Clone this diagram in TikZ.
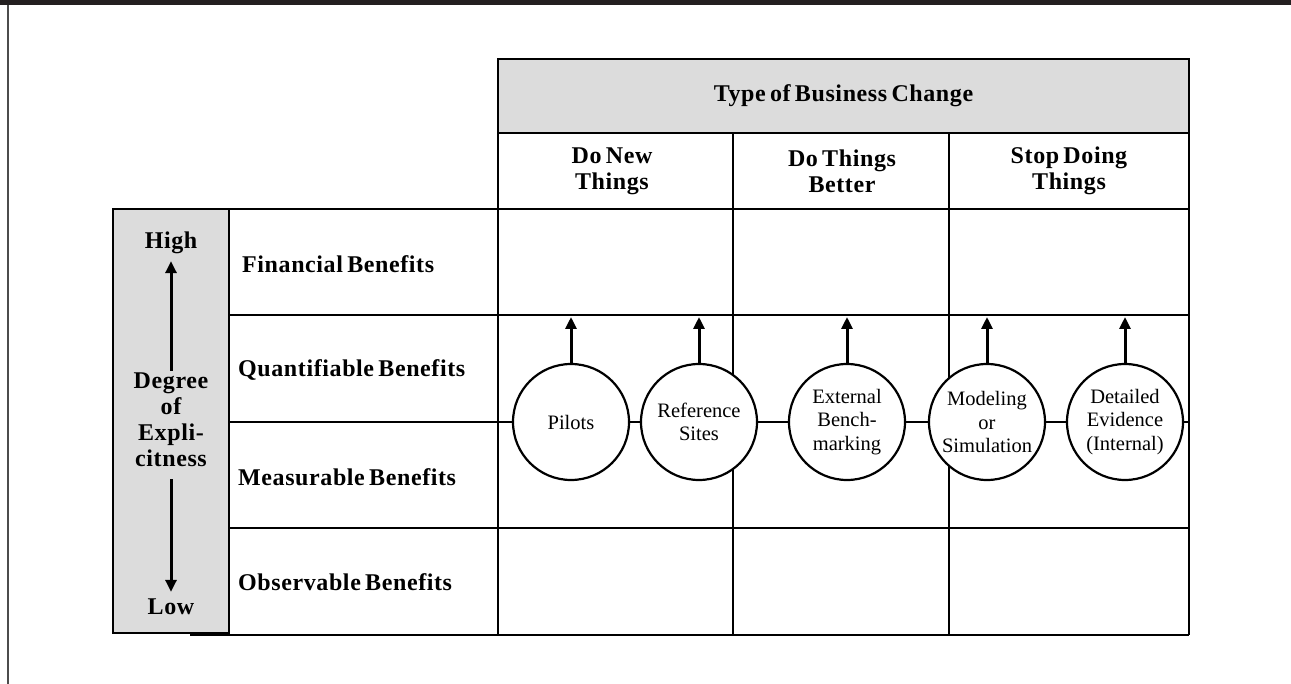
\documentclass[tikz,border=0pt]{standalone}
\usepackage{fontspec}
\setmainfont{Liberation Serif}
\newfontfamily\headfont{Liberation Serif Bold}[LetterSpace=2.5,WordSpace=0.65]
\usetikzlibrary{arrows.meta}
\definecolor{boxgray}{RGB}{220,220,220}
\definecolor{bardark}{RGB}{35,31,32}

\begin{document}
\begin{tikzpicture}[x=1pt,y=-1pt,
  gridline/.style={black,line width=2.8pt},
  rowlabel/.style={anchor=west,inner sep=0pt,font=\headfont\fontsize{24}{26}\selectfont},
  colhead/.style={align=center,font=\headfont\fontsize{24}{26}\selectfont},
  method/.style={draw,circle,fill=white,line width=2.2pt,minimum size=116pt,inner sep=0pt,align=center,font=\fontsize{20.5}{23.3}\selectfont},
  uparrow/.style={line width=3pt,-{Triangle[width=11pt,length=12pt]}}]
\useasboundingbox (0,0) rectangle (1291,684);
% frame of the figure
\fill[bardark] (0,0) rectangle (1291,5);
\draw[gray!60!black,line width=2pt] (7.5,5) -- (7.5,684);
% header and side box
\draw[gridline,fill=boxgray] (498,59) rectangle (1189,133);
\draw[gridline,fill=boxgray] (113,209) rectangle (229,633);
\node[colhead] (type) at (843.5,96) {Type of Business Change};
% the grid
\foreach \x in {498,733,949,1189}{
  \draw[gridline] (\x,133) -- (\x,635);
}
\foreach \y in {209,315,422,528}{
  \draw[gridline] (229,\y) -- (1189,\y);
}
\draw[gridline] (190,635) -- (1189,635);
% column heads
\node[colhead] (donew) at (612,171) {Do New\\Things};
\node[colhead] (dobetter) at (842,171) {Do Things\\Better};
\node[colhead] (stopdoing) at (1069,171) {Stop Doing\\Things};
% row labels
\node[rowlabel] (financial) at (242,264) {Financial Benefits};
\node[rowlabel] (quantifiable) at (238,370) {Quantifiable Benefits};
\node[rowlabel] (measurable) at (238,477) {Measurable Benefits};
\node[rowlabel] (observable) at (238,582) {Observable Benefits};
% degree of explicitness
\node[colhead,inner sep=2pt] (high) at (171,243) {High};
\node[colhead,inner sep=2pt] (degree) at (171,420) {Degree\\of\\Expli-\\citness};
\node[colhead,inner sep=2pt] (low) at (171,607) {Low};
\draw[uparrow,shorten >=5pt] (degree) -- (high);
\draw[uparrow,shorten >=5pt,shorten <=10pt] (degree) -- (low);
% evidence methods, each pushing up to the next row
\foreach \name/\x/\txt in {pilots/571/Pilots,refsites/699/{Reference\\Sites},benchmark/847/{External\\Bench-\\marking},modeling/987/{Modeling\\or\\Simulation},evidence/1125/{Detailed\\Evidence\\(Internal)}}{
  \node[method] (\name) at (\x,422) {\txt};
  \coordinate (\name-top) at (\x,317);
  \draw[uparrow] (\name) -- (\name-top);
}
\end{tikzpicture}
\end{document}
